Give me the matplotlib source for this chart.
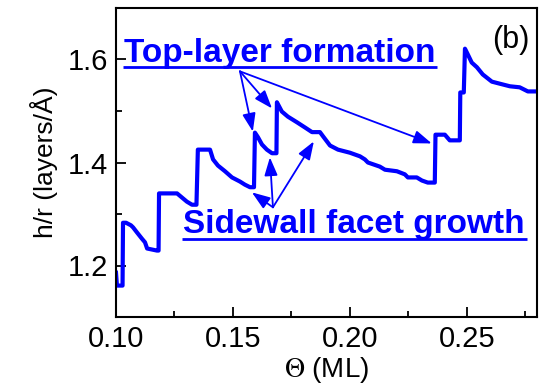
import matplotlib
matplotlib.use("Agg")
import matplotlib.pyplot as plt
from matplotlib.ticker import MultipleLocator, FormatStrFormatter

plt.rcParams['font.family'] = ['Liberation Sans', 'DejaVu Sans']
plt.rcParams['mathtext.fontset'] = 'stix'

# Coverage (ML) and aspect ratio h/r (layers/Å)
theta = [0.1000, 0.1004, 0.1028, 0.1030, 0.1043, 0.1064, 0.1073, 0.1090,
         0.1111, 0.1124, 0.1133, 0.1154, 0.1175, 0.1182, 0.1184, 0.1201,
         0.1261, 0.1282, 0.1303, 0.1325, 0.1344, 0.1350, 0.1402, 0.1415,
         0.1436, 0.1466, 0.1496, 0.1530, 0.1551, 0.1573, 0.1590, 0.1594,
         0.1607, 0.1624, 0.1645, 0.1667, 0.1686, 0.1688, 0.1709, 0.1735,
         0.1774, 0.1808, 0.1838, 0.1872, 0.1885, 0.1915, 0.1949, 0.2000,
         0.2043, 0.2064, 0.2077, 0.2128, 0.2150, 0.2201, 0.2235, 0.2248,
         0.2286, 0.2308, 0.2333, 0.2363, 0.2366, 0.2376, 0.2406, 0.2427,
         0.2470, 0.2472, 0.2487, 0.2492, 0.2504, 0.2521, 0.2543, 0.2568,
         0.2607, 0.2641, 0.2684, 0.2726, 0.2761, 0.2799]
ratio = [1.186, 1.161, 1.161, 1.283, 1.283, 1.278, 1.274, 1.264,
         1.252, 1.245, 1.233, 1.231, 1.229, 1.229, 1.340, 1.340,
         1.340, 1.332, 1.324, 1.318, 1.318, 1.425, 1.425, 1.406,
         1.394, 1.383, 1.371, 1.363, 1.357, 1.352, 1.352, 1.458,
         1.449, 1.435, 1.425, 1.418, 1.418, 1.517, 1.499, 1.489,
         1.478, 1.468, 1.459, 1.459, 1.451, 1.433, 1.425, 1.419,
         1.412, 1.406, 1.400, 1.392, 1.386, 1.383, 1.377, 1.371,
         1.371, 1.365, 1.361, 1.361, 1.454, 1.454, 1.454, 1.443,
         1.443, 1.536, 1.536, 1.621, 1.610, 1.594, 1.585, 1.571,
         1.557, 1.553, 1.548, 1.546, 1.538, 1.538]

x_ticks = [0.10, 0.15, 0.20, 0.25]
y_ticks = [1.2, 1.4, 1.6]

top_label = 'Top-layer formation'
top_anchor = (0.1034, 1.596)
top_src = (0.1530, 1.577)
top_tips = [(0.1585, 1.460), (0.1667, 1.505), (0.2350, 1.437)]

side_label = 'Sidewall facet growth'
side_anchor = (0.1286, 1.264)
side_src = (0.1671, 1.313)
side_tips = [(0.1581, 1.342), (0.1658, 1.410), (0.1846, 1.441)]

BLUE = '#0000FF'

fig = plt.figure(figsize=(5.43, 3.89), dpi=100)
ax = fig.add_axes([116 / 543, 1 - 317 / 389, 421 / 543, 309 / 389])

ax.plot(theta, ratio, color=BLUE, lw=3.0, solid_joinstyle='round')

ax.set_xlim(0.10, 0.28)
ax.set_ylim(1.10, 1.70)
ax.set_xticks(x_ticks)
ax.set_yticks(y_ticks)
ax.xaxis.set_minor_locator(MultipleLocator(0.025))
ax.yaxis.set_minor_locator(MultipleLocator(0.1))
ax.xaxis.set_major_formatter(FormatStrFormatter('%.2f'))
ax.yaxis.set_major_formatter(FormatStrFormatter('%.1f'))
ax.tick_params(which='both', direction='in', top=False, right=False,
               width=1.3, labelsize=21, pad=6)
ax.tick_params(which='major', length=7)
ax.tick_params(which='minor', length=4)
for sp in ax.spines.values():
    sp.set_linewidth(1.5)

ax.set_xlabel(r'$\Theta$ (ML)', fontsize=20, labelpad=1)
ax.set_ylabel('h/r (layers/Å)', fontsize=19, labelpad=7)

ax.text(0.983, 0.945, '(b)', transform=ax.transAxes, ha='right', va='top',
        fontsize=22, color='black')

arrow_kw = dict(arrowstyle='-|>,head_length=0.55,head_width=0.2',
                color=BLUE, lw=1.3, shrinkA=0, shrinkB=0, mutation_scale=20)
for tip in top_tips:
    ax.annotate('', xy=tip, xytext=top_src, arrowprops=arrow_kw)
for tip in side_tips:
    ax.annotate('', xy=tip, xytext=side_src, arrowprops=arrow_kw)

labels = []
for text, anchor, gap in [(top_label, top_anchor, 5), (side_label, side_anchor, 6)]:
    t = ax.text(anchor[0], anchor[1], text, fontsize=24, fontweight='bold',
                color=BLUE, ha='left', va='baseline')
    labels.append((t, anchor, gap))

# underline each bold label just below its baseline
fig.canvas.draw()
renderer = fig.canvas.get_renderer()
for t, anchor, gap in labels:
    bb = t.get_window_extent(renderer)
    base_y = ax.transData.transform(anchor)[1] - gap
    inv = ax.transAxes.inverted()
    (x0, y0) = inv.transform((bb.x0 - 1, base_y))
    (x1, _) = inv.transform((bb.x1 + 2, base_y))
    ax.plot([x0, x1], [y0, y0], transform=ax.transAxes, color=BLUE,
            lw=2.0, clip_on=False, solid_capstyle='butt')

fig.savefig('out.png', dpi=100)
